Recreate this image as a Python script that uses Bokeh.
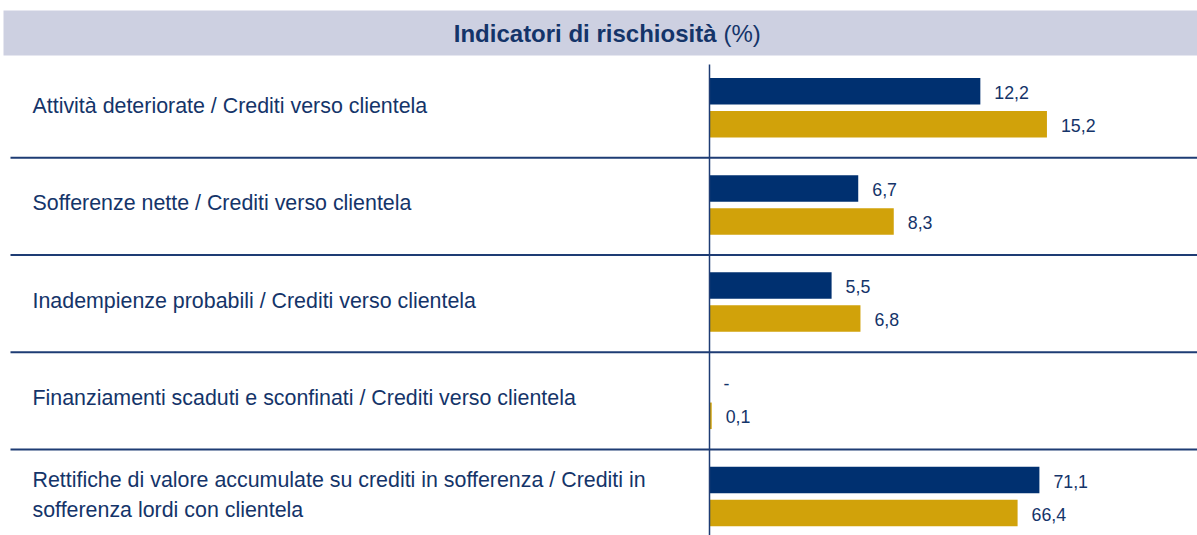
from bokeh.plotting import figure
from bokeh.models import Range1d, ColumnDataSource
from bokeh.core.properties import value
from bokeh.embed import file_html
from bokeh.resources import INLINE

# ---------------- data ----------------
categories = [
    "Attività deteriorate / Crediti verso clientela",
    "Sofferenze nette / Crediti verso clientela",
    "Inadempienze probabili / Crediti verso clientela",
    "Finanziamenti scaduti e sconfinati / Crediti verso clientela",
    "Rettifiche di valore accumulate su crediti in sofferenza / Crediti in\nsofferenza lordi con clientela",
]
series_a = [12.2, 6.7, 5.5, 0.0, 71.1]   # navy
series_b = [15.2, 8.3, 6.8, 0.1, 66.4]   # gold
scale_group = ["small", "small", "small", "small", "big"]
title_bold = "Indicatori di rischiosità"
title_rest = "(%)"

# ---------------- style / layout ----------------
W, H = 1197, 535
AXIS_PX = 709          # pixel position of the zero line
PX_SMALL = 22.2        # px per unit (first four rows)
PX_BIG = 4.64          # px per unit (last row)
ROW_PX = 97.2
ROW0_PX = 108.7
NAVY = "#003070"
GOLD = "#D1A20A"
TXT = "#143469"
LINE = "#1E3C74"
HEADER = "#CDD0E1"
FONT = "Liberation Sans"


def py(px):
    """convert a vertical pixel position to a row coordinate"""
    return (px - ROW0_PX) / ROW_PX


x_rng = Range1d(-AXIS_PX / PX_SMALL, (W - AXIS_PX) / PX_SMALL)
big_rng = Range1d(-AXIS_PX / PX_BIG, (W - AXIS_PX) / PX_BIG)
y_rng = Range1d(py(H), py(0))

p = figure(width=W, height=H, x_range=x_rng, y_range=y_rng,
           output_backend="svg", toolbar_location=None,
           x_axis_location=None, y_axis_location=None, min_border=0)
p.extra_x_ranges = {"big": big_rng}
p.xgrid.visible = False
p.ygrid.visible = False
p.outline_line_color = None
p.background_fill_color = "white"
p.border_fill_color = "white"

# header band
p.quad(left=x_rng.start + 3 / PX_SMALL, right=x_rng.end, top=py(10), bottom=py(55),
       fill_color=HEADER, line_color=None)
p.text(x=[0], y=[py(32.5)], text=[title_bold], text_align="right",
       text_baseline="middle", x_offset=7, text_color=TXT,
       text_font=value(FONT), text_font_size=value("24px"),
       text_font_style="bold")
p.text(x=[0], y=[py(32.5)], text=[title_rest], text_align="left",
       text_baseline="middle", x_offset=14, text_color=TXT,
       text_font=value(FONT), text_font_size=value("24px"))

# row separators
n = len(categories)
p.segment(x0=[x_rng.start + 10 / PX_SMALL] * (n - 1), x1=[x_rng.end] * (n - 1),
          y0=[i + 0.5 for i in range(n - 1)], y1=[i + 0.5 for i in range(n - 1)],
          line_color=LINE, line_width=2)

# row labels
p.text(x=[x_rng.start] * n, y=list(range(n)), text=categories,
       x_offset=32, y_offset=-3, text_align="left", text_baseline="middle",
       text_color=TXT, text_font=value(FONT), text_font_size=value("21.4px"),
       text_line_height=1.22)


def fmt(v):
    return "-" if v == 0 else f"{v:.1f}".replace(".", ",")


OFF_A = -18 / ROW_PX
OFF_B = 15 / ROW_PX
BAR_H = 26.5 / ROW_PX

for grp in ["small", "big"]:
    idx = [i for i in range(n) if scale_group[i] == grp]
    src = ColumnDataSource(dict(
        ya=[i + OFF_A for i in idx], yb=[i + OFF_B for i in idx],
        a=[series_a[i] for i in idx], b=[series_b[i] for i in idx],
        la=[fmt(series_a[i]) for i in idx], lb=[fmt(series_b[i]) for i in idx],
    ))
    kw = {} if grp == "small" else {"x_range_name": "big"}
    p.hbar(y="ya", left=0, right="a", height=BAR_H, source=src,
           fill_color=NAVY, line_color=None, **kw)
    p.hbar(y="yb", left=0, right="b", height=BAR_H, source=src,
           fill_color=GOLD, line_color=None, **kw)
    for ycol, xcol, lcol in [("ya", "a", "la"), ("yb", "b", "lb")]:
        p.text(x=xcol, y=ycol, text=lcol, source=src, x_offset=14, y_offset=1,
               text_align="left", text_baseline="middle", text_color=TXT,
               text_font=value(FONT), text_font_size=value("17.8px"), **kw)

# zero line
p.segment(x0=[0], x1=[0], y0=[py(64)], y1=[y_rng.start],
          line_color=LINE, line_width=1.5)

open("out.html", "w").write(file_html(p, INLINE))
